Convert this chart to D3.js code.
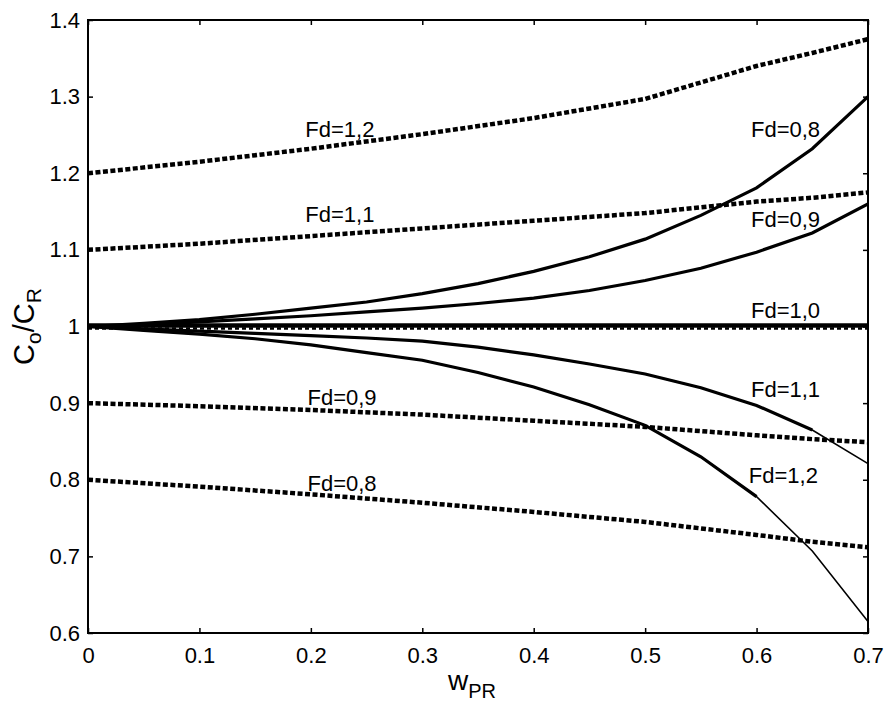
<html>
<head>
<meta charset="utf-8">
<script src="https://cdn.jsdelivr.net/npm/d3@7"></script>
<style>
    body { margin: 0; background: #fff; }
    text { font-family: "Liberation Sans", Arial, sans-serif; fill: #000; }
    .tick text { font-size: 22px; }
</style>
</head>
<body>
<script>

    // x values (w_PR) for the solid curves and dotted curves
    var wSolid = [0, 0.05, 0.1, 0.15, 0.2, 0.25, 0.3, 0.35, 0.4, 0.45, 0.5, 0.55, 0.6, 0.65, 0.7];
    var wDot = [0, 0.1, 0.2, 0.3, 0.4, 0.5, 0.6, 0.65, 0.7];

    // solid curves
    var solidFd08 = [1, 1.004, 1.009, 1.016, 1.024, 1.032, 1.043, 1.056, 1.072, 1.091, 1.114, 1.145, 1.181, 1.232, 1.3];
    var solidFd09 = [1, 1.002, 1.006, 1.010, 1.014, 1.019, 1.024, 1.030, 1.037, 1.047, 1.060, 1.076, 1.097, 1.122, 1.16];
    var solidFd10 = [1, 1, 1, 1, 1, 1, 1, 1, 1, 1, 1, 1, 1, 1, 1];
    var solidFd11 = [1, 0.997, 0.994, 0.991, 0.988, 0.985, 0.981, 0.973, 0.963, 0.951, 0.938, 0.920, 0.897, 0.865, 0.821];
    var solidFd12 = [1, 0.995, 0.990, 0.984, 0.976, 0.966, 0.956, 0.940, 0.921, 0.898, 0.871, 0.830, 0.778, 0.707, 0.615];

    // dotted curves
    var dotFd12 = [1.2, 1.215, 1.232, 1.251, 1.272, 1.297, 1.340, 1.357, 1.375];
    var dotFd11 = [1.1, 1.108, 1.118, 1.128, 1.138, 1.148, 1.163, 1.168, 1.175];
    var dotFd10 = [1, 1, 1, 1, 1, 1, 1, 1, 1];
    var dotFd09 = [0.9, 0.896, 0.891, 0.885, 0.877, 0.869, 0.858, 0.853, 0.849];
    var dotFd08 = [0.8, 0.791, 0.781, 0.770, 0.758, 0.745, 0.728, 0.719, 0.712];

    var xTicks = [0, 0.1, 0.2, 0.3, 0.4, 0.5, 0.6, 0.7];
    var yTicks = [0.6, 0.7, 0.8, 0.9, 1.0, 1.1, 1.2, 1.3, 1.4];

    // curve labels, placed in data units
    var labels = [
        {t: "Fd=1,2", x: 0.195, y: 1.247},
        {t: "Fd=1,1", x: 0.195, y: 1.137},
        {t: "Fd=0,8", x: 0.595, y: 1.247},
        {t: "Fd=0,9", x: 0.595, y: 1.130},
        {t: "Fd=1,0", x: 0.595, y: 1.011},
        {t: "Fd=1,1", x: 0.595, y: 0.908},
        {t: "Fd=1,2", x: 0.593, y: 0.796},
        {t: "Fd=0,9", x: 0.197, y: 0.898},
        {t: "Fd=0,8", x: 0.197, y: 0.785}
    ];

    var W = 885, H = 718;
    var margin = {top: 20, right: 17, bottom: 85, left: 88};

    var svg = d3.select("body").append("svg")
        .attr("width", W)
        .attr("height", H);

    var x = d3.scaleLinear().domain([0, 0.7]).range([margin.left, W - margin.right]);
    var y = d3.scaleLinear().domain([0.6, 1.4]).range([H - margin.bottom, margin.top]);

    var fmt = function (d) { return String(+d.toFixed(1)); };

    // axes, ticks inward on all four sides
    svg.append("g")
        .attr("transform", "translate(0," + y(0.6) + ")")
        .call(d3.axisBottom(x).tickValues(xTicks).tickFormat(fmt).tickSize(-5).tickSizeOuter(0).tickPadding(14));
    svg.append("g")
        .attr("transform", "translate(" + x(0) + ",0)")
        .call(d3.axisLeft(y).tickValues(yTicks).tickFormat(fmt).tickSize(-5).tickSizeOuter(0).tickPadding(8));
    svg.append("g")
        .attr("transform", "translate(0," + y(1.4) + ")")
        .call(d3.axisTop(x).tickValues(xTicks).tickFormat("").tickSize(-5).tickSizeOuter(0));
    svg.append("g")
        .attr("transform", "translate(" + x(0.7) + ",0)")
        .call(d3.axisRight(y).tickValues(yTicks).tickFormat("").tickSize(-5).tickSizeOuter(0));

    svg.selectAll(".domain").remove();
    svg.selectAll(".tick line").attr("stroke", "#000").attr("stroke-width", 1.5);
    svg.selectAll(".tick text").attr("font-family", null).attr("font-size", null);

    svg.append("clipPath").attr("id", "plot")
        .append("rect")
        .attr("x", x(0)).attr("y", y(1.4))
        .attr("width", x(0.7) - x(0)).attr("height", y(0.6) - y(1.4));

    var line = function (xs) {
        return d3.line()
            .x(function (d, i) { return x(xs[i]); })
            .y(function (d) { return y(d); });
    };

    var g = svg.append("g").attr("clip-path", "url(#plot)");

    // dotted curves
    [dotFd12, dotFd11, dotFd09, dotFd08].forEach(function (s) {
        g.append("path")
            .attr("d", line(wDot)(s))
            .attr("fill", "none")
            .attr("stroke", "#000")
            .attr("stroke-width", 4.5)
            .attr("stroke-dasharray", "5,2.5");
    });
    g.append("path")
        .attr("d", line(wDot)(dotFd10))
        .attr("transform", "translate(0,2)")
        .attr("fill", "none")
        .attr("stroke", "#000")
        .attr("stroke-width", 2.5)
        .attr("stroke-dasharray", "4,3");

    // thin full-length versions of the lower solid curves
    [solidFd11, solidFd12].forEach(function (s) {
        g.append("path")
            .attr("d", line(wSolid)(s))
            .attr("fill", "none")
            .attr("stroke", "#000")
            .attr("stroke-width", 1.6);
    });

    // thick solid curves
    g.append("path").attr("d", line(wSolid)(solidFd08)).attr("fill", "none").attr("stroke", "#000").attr("stroke-width", 3.2);
    g.append("path").attr("d", line(wSolid)(solidFd09)).attr("fill", "none").attr("stroke", "#000").attr("stroke-width", 3.2);
    g.append("path").attr("d", line(wSolid)(solidFd10)).attr("transform", "translate(0,-1)").attr("fill", "none").attr("stroke", "#000").attr("stroke-width", 4.5);
    g.append("path").attr("d", line(wSolid.slice(0, 14))(solidFd11.slice(0, 14))).attr("fill", "none").attr("stroke", "#000").attr("stroke-width", 3.2);
    g.append("path").attr("d", line(wSolid.slice(0, 13))(solidFd12.slice(0, 13))).attr("fill", "none").attr("stroke", "#000").attr("stroke-width", 3.2);

    // frame
    svg.append("rect")
        .attr("x", x(0)).attr("y", y(1.4))
        .attr("width", x(0.7) - x(0)).attr("height", y(0.6) - y(1.4))
        .attr("fill", "none")
        .attr("stroke", "#000")
        .attr("stroke-width", 2);

    // curve labels
    svg.selectAll(".lbl")
        .data(labels)
        .enter()
        .append("text")
        .attr("class", "lbl")
        .attr("x", function (d) { return x(d.x); })
        .attr("y", function (d) { return y(d.y); })
        .attr("font-size", "22px")
        .text(function (d) { return d.t; });

    // axis titles
    var xt = svg.append("text")
        .attr("x", (x(0) + x(0.7)) / 2 - 6)
        .attr("y", 690)
        .attr("text-anchor", "middle")
        .attr("font-size", "28px");
    xt.append("tspan").text("w");
    xt.append("tspan").attr("font-size", "20px").attr("dy", 8).text("PR");

    var yt = svg.append("text")
        .attr("transform", "translate(34," + ((y(0.6) + y(1.4)) / 2) + ") rotate(-90)")
        .attr("text-anchor", "middle")
        .attr("font-size", "29px");
    yt.append("tspan").text("C");
    yt.append("tspan").attr("font-size", "21px").attr("dy", 7).text("o");
    yt.append("tspan").attr("dy", -7).text("/C");
    yt.append("tspan").attr("font-size", "21px").attr("dy", 7).text("R");

</script>
</body>
</html>
